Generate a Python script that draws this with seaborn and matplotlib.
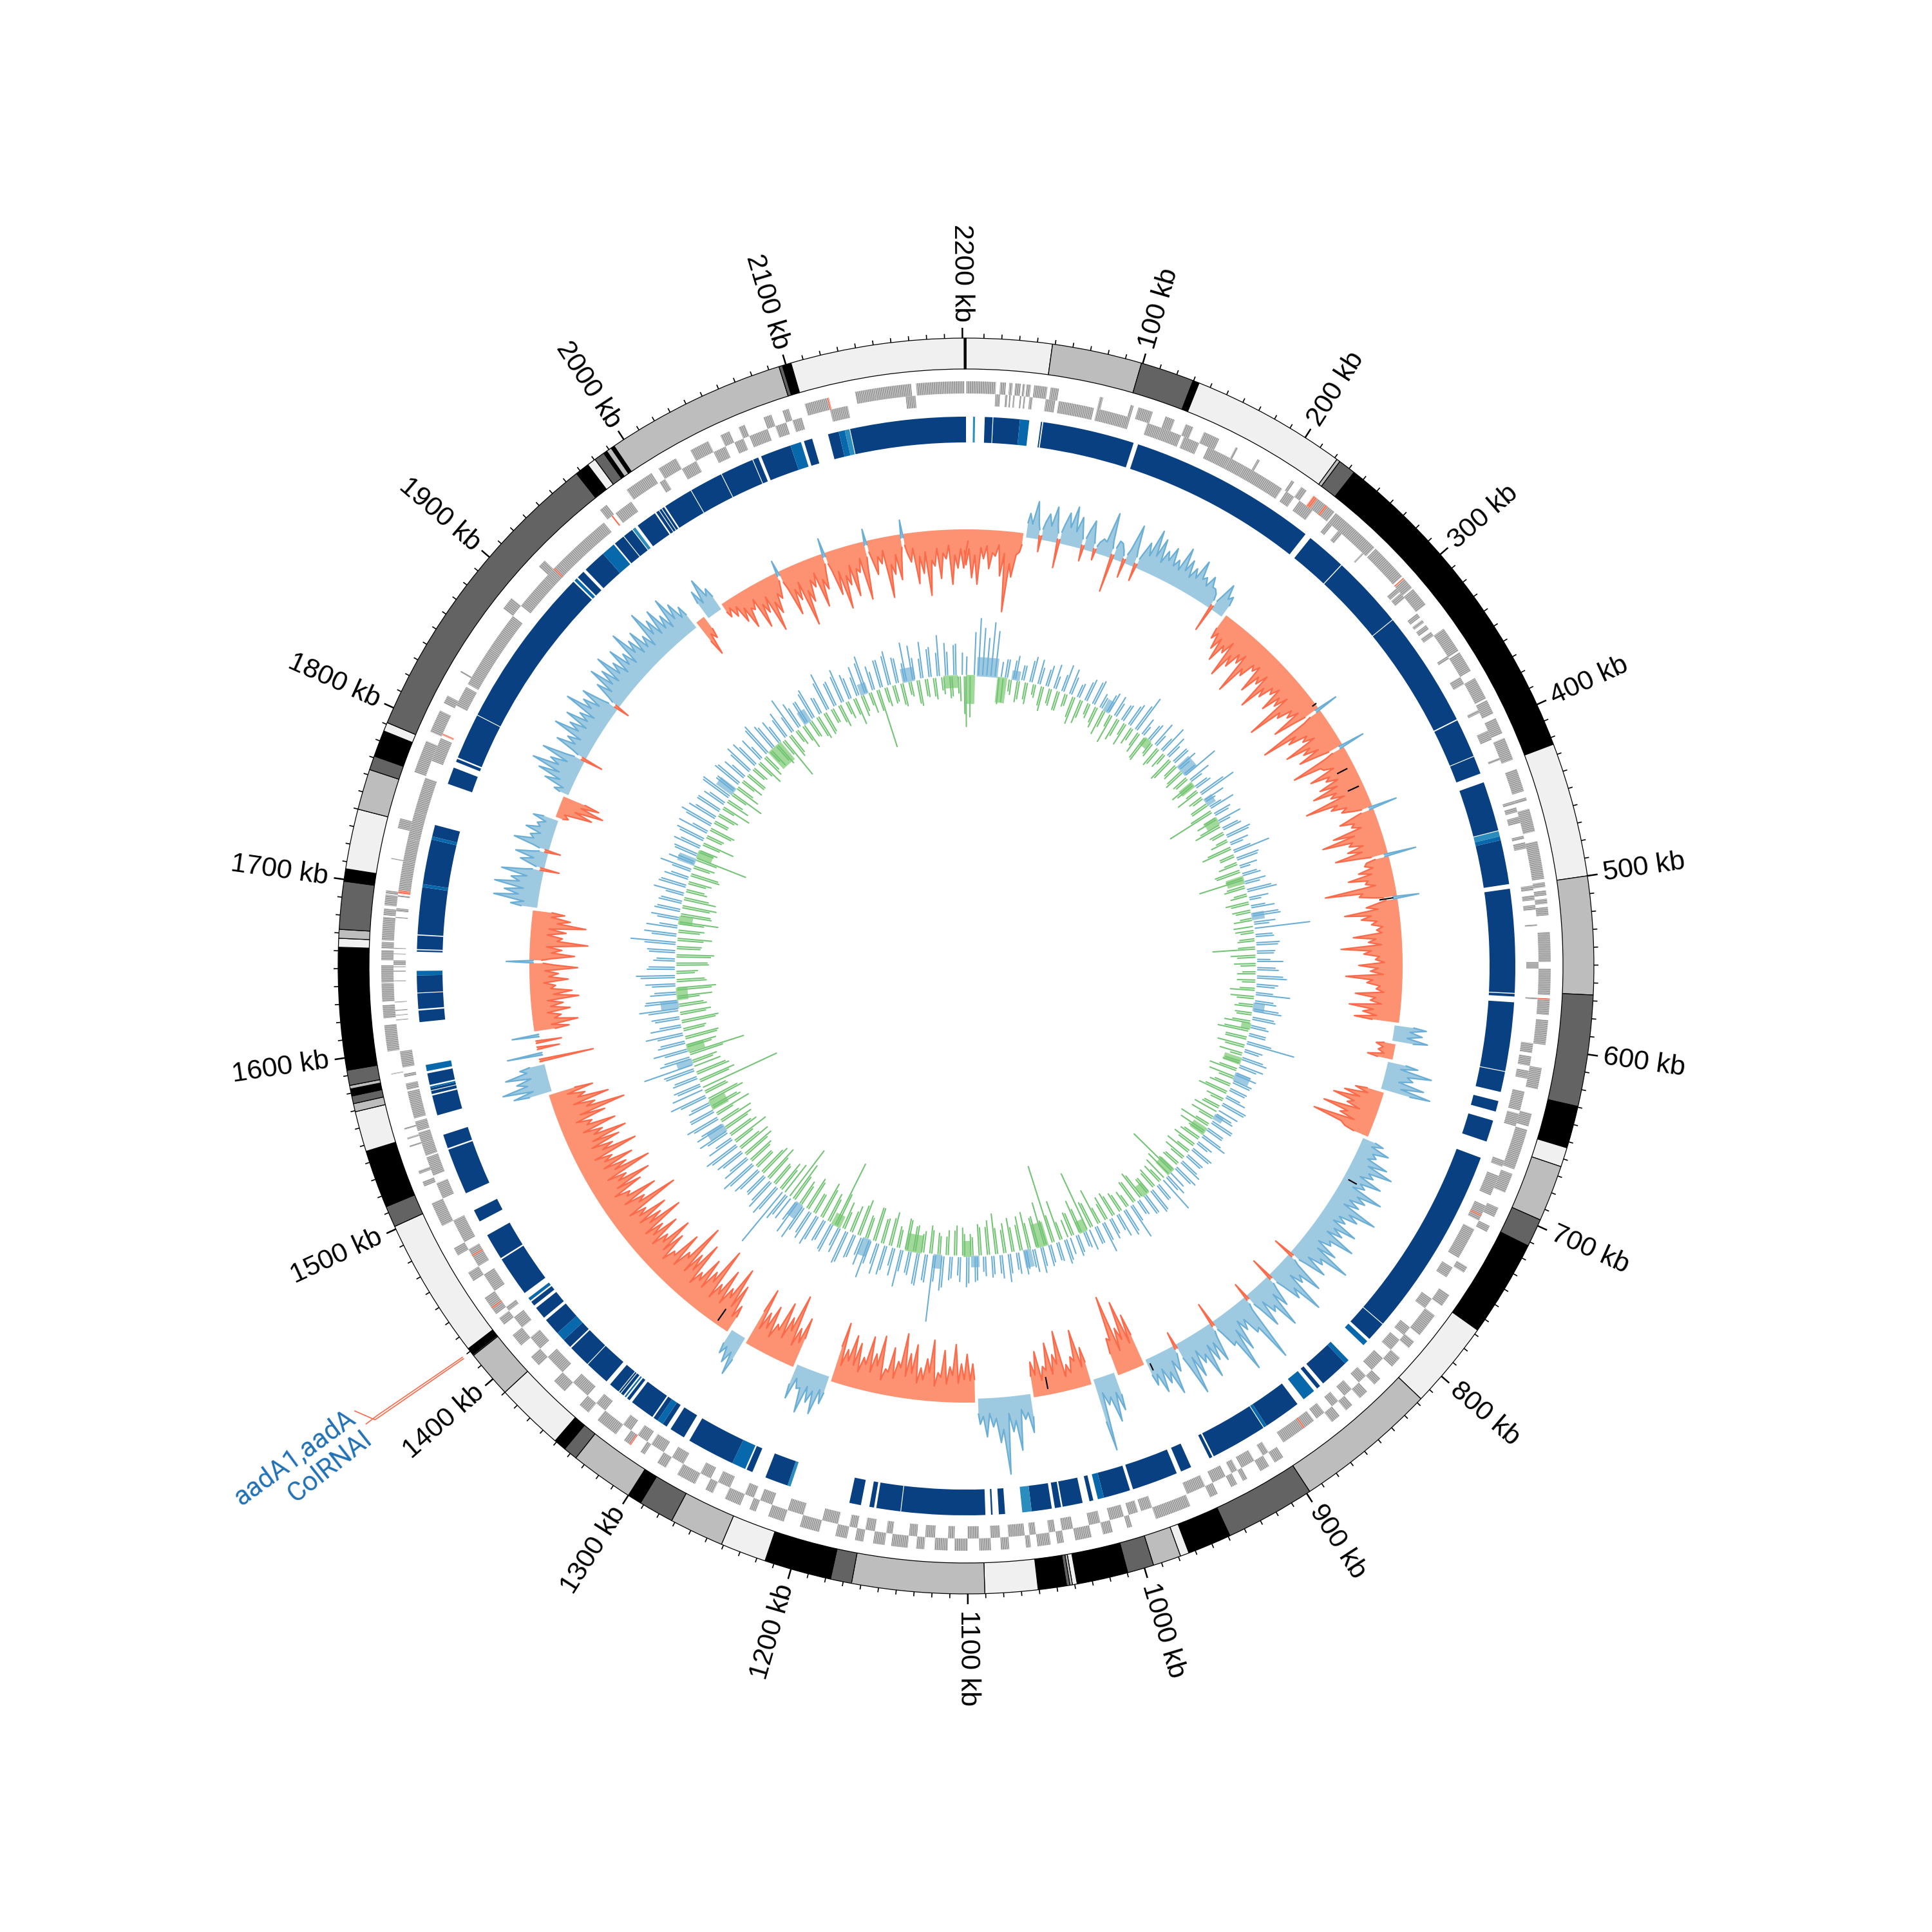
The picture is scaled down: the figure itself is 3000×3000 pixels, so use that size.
import numpy as np
import pandas as pd
import matplotlib.pyplot as plt
import seaborn as sns

sns.set_theme(style="white")

# genome length and ring radii (radial axis runs in figure pixels)
genome_kb = 2202
bin_kb = 5

# ideogram: contig ends in kb and shade index
ideogram_ends = [48.5, 99.3, 129.7, 133.3, 221.5, 223.5, 233.5, 424, 500, 566.7, 629.6, 653.5, 664.5, 696.4, 712.4,
                 767.3, 817, 898, 949, 973.8, 978.8, 994.7, 1009.7, 1038.6, 1041.3, 1042.7, 1044.6, 1060.6, 1090.5,
                 1165.3, 1177.3, 1215.2, 1241.2, 1272, 1292, 1300, 1336, 1344, 1351, 1390, 1417, 1417.7, 1421.8,
                 1501.6, 1513.6, 1546.5, 1569.4, 1574, 1578.4, 1582.4, 1584.4, 1593, 1662, 1667, 1672, 1699, 1706,
                 1740, 1763, 1771, 1786, 1791, 1967.5, 1975.5, 1980.5, 1986.5, 1988.5, 1991.5, 1993.5, 2096, 2098,
                 2103, 2201, 2201.5, 2202]
ideogram_shades = [0, 1, 2, 3, 0, 1, 2, 3, 0, 1, 2, 3, 0, 1, 2,
                   3, 0, 1, 2, 3, 0, 1, 2, 3, 0, 1, 2, 3, 0,
                   1, 2, 3, 0, 1, 2, 3, 1, 2, 3, 0, 1, 2, 3,
                   0, 2, 3, 0, 1, 2, 3, 1, 2, 3, 0, 1, 2, 3,
                   0, 1, 2, 3, 0, 2, 3, 0, 2, 3, 1, 3, 1, 2,
                   3, 0, 2, 3]
shade_colors = ["#f0f0f0", "#bdbdbd", "#636363", "#000000"]

# genes on the two strands, kb ranges
genes_outer = [(0, 18), (20.5, 24), (26, 28), (29.5, 33), (34, 35.5), (36.5, 39), (41, 49), (51, 56), (81, 83),
               (100, 102), (105, 114), (122, 128), (135, 140), (147, 157), (168, 169.5), (183, 184.5), (207, 209),
               (214, 218), (226, 239), (240, 271), (272, 295), (297, 304), (305, 317), (335, 351), (352, 365),
               (370, 384), (385, 394), (397, 407), (410, 424), (430, 444), (448, 450), (455, 469), (475, 498),
               (500, 503), (505, 508), (510, 513), (515, 520), (530, 548), (552, 568), (571, 580), (583, 598),
               (612, 625), (640, 648), (650, 675), (678, 690), (700, 706), (712, 716), (740, 744), (760, 768),
               (775, 790), (795, 800), (808, 815), (825, 830), (836, 842), (848, 853), (858, 864), (900, 906),
               (910, 916), (925, 928), (932, 936), (945, 950), (963, 985), (1000, 1003), (1012, 1018), (1025, 1035),
               (1042, 1046), (1050, 1058), (1062, 1065), (1075, 1080), (1086, 1093), (1100, 1108), (1112, 1120),
               (1126, 1131), (1136, 1146), (1150, 1157), (1163, 1168), (1173, 1180), (1190, 1202), (1212, 1222),
               (1230, 1234), (1240, 1250), (1258, 1263), (1270, 1282), (1290, 1296), (1305, 1308), (1315, 1320),
               (1326, 1340), (1347, 1354), (1366, 1375), (1388, 1395), (1404, 1412), (1420, 1425), (1428, 1440),
               (1452, 1458), (1470, 1475), (1490, 1505), (1516, 1519), (1524, 1526), (1541, 1542), (1546, 1547),
               (1552, 1553), (1586, 1586.6), (1600, 1616), (1620, 1628), (1630, 1641), (1641.6, 1652), (1655, 1661),
               (1662, 1666), (1667, 1681), (1682, 1686), (1688, 1694.5), (1695, 1697), (1716, 1716.6), (1735, 1741),
               (1770, 1790), (1796, 1810), (1815, 1820), (1836, 1837), (1882, 1890), (1915, 1920), (1965, 1970),
               (1985, 2003), (2008, 2020), (2030, 2042), (2050, 2056), (2062, 2066), (2078, 2083), (2090, 2094),
               (2104, 2118), (2135, 2147), (2147, 2169), (2172, 2201)]
genes_inner = [(18, 21), (24, 25.5), (26.5, 27.5), (29, 30), (33, 34), (35.5, 36.5), (39, 41), (49, 55), (57, 79),
               (81, 98), (98, 102), (113, 122), (122, 135), (137, 147), (153, 168), (168, 178), (178, 205),
               (208, 214), (218, 228), (240, 243), (248, 251), (268, 269), (298, 301), (302, 306), (318, 321),
               (323, 325), (327, 330), (332, 335), (350, 352), (365, 370), (388, 390), (402, 408), (420, 421.5),
               (448, 450), (452, 455), (458, 462), (470, 472), (474, 478), (501, 504), (507, 510), (513, 516),
               (525, 526), (548, 552), (570, 571), (598, 604), (606, 612), (615, 620), (628, 640), (642, 650),
               (672, 676), (682, 695), (702, 712), (718, 738), (745, 752), (768, 775), (790, 796), (800, 808),
               (815, 825), (830, 836), (842, 848), (853, 858), (864, 870), (872, 895), (906, 910), (916, 925),
               (928, 932), (936, 945), (950, 962), (985, 992), (994, 1000), (1003, 1012), (1018, 1025), (1035, 1042),
               (1046, 1050), (1058, 1062), (1065, 1075), (1080, 1086), (1093, 1100), (1108, 1112), (1120, 1126),
               (1131, 1136), (1146, 1150), (1157, 1163), (1168, 1173), (1180, 1190), (1202, 1212), (1222, 1230),
               (1234, 1240), (1250, 1258), (1263, 1270), (1282, 1290), (1296, 1305), (1308, 1315), (1320, 1326),
               (1340, 1347), (1354, 1366), (1375, 1388), (1395, 1404), (1412, 1420), (1425, 1428), (1440, 1452),
               (1458, 1470), (1475, 1490), (1505, 1515), (1520, 1532), (1533, 1541), (1541, 1548), (1549, 1555),
               (1557, 1574), (1575, 1579), (1583, 1585), (1589, 1599), (1618, 1618.6), (1621, 1621.6), (1624, 1624.6),
               (1629, 1629.6), (1642, 1642.6), (1648, 1648.6), (1650.7, 1651.3), (1652, 1655), (1658.6, 1659.2),
               (1662, 1662.6), (1681, 1681.6), (1685, 1687), (1694, 1695), (1698, 1716), (1716, 1730), (1730, 1747),
               (1747, 1769), (1780, 1795), (1817, 1830), (1832, 1858), (1858, 1882), (1890, 1912), (1912, 1925),
               (1925, 1962), (1971, 1983), (2004, 2008), (2020, 2030), (2042, 2050), (2056, 2062), (2066, 2078),
               (2083, 2090), (2094, 2100), (2118, 2129), (2165, 2171)]
genes_red_outer = [(223, 226), (232, 233.5), (296, 296.8), (570, 571), (1315, 1316), (1432, 1433), (2118, 2119)]
genes_red_inner = [(708, 709), (879, 880), (1465, 1466), (1696, 1698), (1797, 1798), (1920, 1921), (1968, 1969)]

# contig/ORF blocks: start kb, end kb, blue level
blocks_start = [4.5, 12, 17.5, 34.5, 48, 49.5, 111.7, 237.5, 264, 311.8, 388, 413.5, 431, 463.5, 467, 469.5, 501,
                568.3, 573.7, 618.5, 637.6, 650.5, 675.5, 799.5, 814, 831, 834, 855.5, 860.5, 874, 898, 900.5, 938,
                953, 963, 994.7, 1012, 1019, 1026, 1040, 1046, 1059, 1076, 1084, 1088.6, 1143, 1160, 1168.5, 1215,
                1217, 1241, 1246, 1255, 1290, 1303, 1306, 1310, 1314, 1332, 1335, 1337, 1339.5, 1341, 1351, 1367.5,
                1383, 1389, 1395, 1408, 1418, 1422, 1428, 1455, 1482, 1502, 1533, 1555, 1569, 1571.5, 1573, 1575,
                1584, 1615.6, 1624, 1634.5, 1645.5, 1660.6, 1662.3, 1671.7, 1702, 1704, 1733, 1735, 1770, 1785, 1788,
                1818, 1924, 1927, 1934, 1949, 1959, 1966.5, 1973.5, 1977.5, 1992, 1994.5, 1996.5, 1999, 2018.5,
                2040.5, 2062.5, 2068, 2088, 2097, 2113, 2120, 2124, 2127.5]
blocks_end = [5.8, 17, 34.5, 40.5, 48.8, 108.7, 233.5, 263.4, 311.3, 387.2, 413, 425, 463, 467, 469.5, 498, 567.7,
              570, 618, 631.6, 644.5, 664.5, 799, 812, 817.5, 834, 853, 858, 869, 898, 900, 937, 940, 960, 992.7,
              1012, 1016, 1021.5, 1039, 1044, 1059, 1065, 1080, 1085, 1142.5, 1158.5, 1163, 1176, 1217, 1232, 1245,
              1255, 1286, 1300, 1306, 1310, 1313, 1330, 1334, 1336, 1339, 1340.5, 1348, 1367, 1382, 1389, 1395, 1406,
              1416, 1421, 1424, 1454, 1472, 1490, 1532, 1542, 1568, 1571, 1573, 1574, 1582.5, 1588, 1623, 1634,
              1645.5, 1648.4, 1661.6, 1671, 1702, 1704, 1733, 1735, 1742.5, 1781, 1787, 1817.5, 1923, 1926, 1932,
              1949, 1958, 1966, 1973, 1975.5, 1991, 1994, 1996, 1998, 2018, 2040, 2062, 2066, 2088, 2095, 2102.5, 2120,
              2124, 2127, 2202]
blocks_level = [2, 0, 0, 1, 0, 0, 0, 0, 0, 0, 0, 0, 0, 2, 1, 0, 0,
                0, 0, 0, 0, 0, 0, 0, 1, 1, 0, 0, 1, 0, 1, 0, 0,
                0, 0, 0, 1, 0, 0, 0, 0, 2, 0, 0, 0, 0, 0, 0, 2,
                0, 0, 1, 0, 0, 0, 1, 0, 0, 0, 1, 0, 0, 0, 0, 0,
                0, 1, 0, 0, 0, 1, 0, 0, 0, 0, 0, 0, 0, 0, 1, 0,
                1, 0, 0, 0, 1, 0, 0, 0, 1, 0, 1, 0, 0, 0, 0,
                0, 1, 0, 0, 1, 0, 0, 2, 0, 0, 0, 0, 0, 0,
                0, 0, 0, 1, 0, 0, 1, 2, 0]
block_colors = ["#084081", "#0868ac", "#2b8cbe"]

# outer wiggle, one value per 5 kb: positive runs outward, negative inward
skew_values = [
    -55, -75, -85, -45, -60, -40, -70, -125, -70, -30, 38, 58, -25, 42, 55, -45, 50, 62, 48, -25,
    48, -18, 25, 70, -60, 28, -30, 65, -28, 45, 70, 60, 45, 55, 40, 65, 50, 42, 60, 38,
    45, 30, -45, 50, 35, -42, -55, -70, -50, -85, -62, -48, -95, -58, -40, -72, -50, -88, -60, -45,
    -68, -52, -105, -60, -48, -78, 38, -110, -70, -50, -85, -60, -72, 42, -92, -45, -72, -50, -65, -80,
    -55, -100, -62, -48, 45, -58, -42, -75, -95, -55, -60, -82, 50, -40, -52, -70, -45, -110, -58, 40,
    -50, -85, -60, -45, -38, -75, -52, -95, -60, -42, -68, -50, -88, -55, -40, -72, -48, -80, -58, -70,
    50, 45, 55, -30, -25, -40, 48, 72, 45, 65, 78, -45, -60, -75, -50, -85, -55, -95, -40, 35,
    48, 32, 55, 68, 42, 60, 38, 72, 50, 45, 80, 55, 40, 65, 48, 75, 42, 58, 88, 50,
    62, -35, 70, 45, 90, 58, -38, 52, 82, 48, 65, -30, 110, 55, 42, 70, 100, 50, -40, 62,
    55, 78, 48, 65, 88, -28, 40, 72, 50, 60, 44, -85, -110, -70, -125, -60, 60, 75, 45, 115,
    -60, -90, -50, -40, -95, -60, -80, -45, -70, -55, 60, 38, 85, 55, 120, 70, 45, 60, 40, -60,
    -75, -60, -90, -55, -80, -45, -95, -65, -50, -85, -70, -100, -55, -75, -40, -90, -60, -85, -50, -70,
    -80, -55, -95, 45, 65, 50, 70, 35, 55, -80, -60, -110, -70, -90, -50, -75, -60, -95, 65, 50,
    40, -45, -75, -100, -60, -85, -55, -110, -65, -80, -50, -95, -70, -115, -60, -85, -45, -70, -90, -55,
    -80, -60, -100, -70, -85, -55, -115, -65, -90, -50, -75, -95, -60, -105, -70, -85, -55, -100, -65, -80,
    -95, -60, -85, -50, -75, -110, -65, -90, -55, -70, 60, 75, 50, 65, 40, -85, 55, -35, -40, 42,
    -55, -70, -45, -60, -50, -75, -65, -40, -60, -45, -75, 42, -70, -50, -90, -50, -55, -85, -60, -50,
    42, 70, 55, 72, 48, 65, -30, 40, 50, -25, 58, 35, 45, 30, 40, -20, -55, -70, -60, 25,
    45, 60, 75, 50, 68, -35, 55, 42, 70, 50, 62, 45, 75, 52, 60, -25, 48, 68, 55, 72,
    50, 65, 48, 78, 55, 62, 45, 80, 58, 68, 50, 72, 55, 42, -62, -38, 48, 62, 40, -25,
    -30, -45, -60, -35, -70, -50, -85, -60, -40, 25, -75, -55, -100, -65, -45, -80, -55, 30, -70, -95,
    -60, -80, -45, -90, 25, -55, -40, -95, -60, -70, 28, -45, -80, -65, -100, -55, -75, -45, -85, -60,
    -60]
# same track, the values halfway between the bins above
skew_mids = [
    -30, -40, -28, -25, -35, -22, -35, -50, -35, 0, 22, 25, 28, 24, 26, 30, 28, 24, 26, 30,
    24, 18, 22, 26, 30, 18, 24, 28, 25, 26, 30, 24, 32, 28, 26, 30, 24, 28, 32, 26,
    30, 24, 26, 28, 0, -30, -34, -40, -28, -45, -35, -30, -48, -32, -28, -40, -30, -46, -36, -30,
    -38, -30, -52, -36, -30, -42, -32, -55, -40, -32, -46, -36, -40, -34, -48, -30, -42, -32, -38, -44,
    -34, -50, -38, -30, -34, -36, -28, -42, -48, -34, -38, -44, -36, -28, -32, -40, -30, -52, -36, -30,
    -32, -44, -36, -28, -30, -40, -32, -48, -36, -28, -38, -30, -46, -34, -28, -40, -30, -42, -36, 0,
    25, 22, 0, -18, -15, 0, 22, 35, 24, 30, 0, -24, -34, -40, -28, -44, -30, -48, 0, 18,
    24, 20, 26, 32, 22, 28, 20, 34, 26, 22, 38, 26, 22, 30, 24, 36, 22, 28, 42, 26,
    30, 22, 34, 24, 42, 28, 24, 26, 40, 24, 30, 22, 50, 26, 22, 32, 46, 24, 24, 28,
    26, 36, 24, 30, 40, 22, 20, 34, 24, 28, 0, -40, -50, -35, -55, 0, 30, 34, 24, 0,
    -30, -42, -26, -22, -44, -30, -38, -24, -34, 0, 28, 22, 38, 26, 50, 32, 24, 28, 0, -34,
    -36, -30, -42, -28, -38, -24, -44, -32, -26, -40, -34, -46, -28, -36, -22, -42, -30, -40, -26, -34,
    -38, -28, 0, 24, 30, 26, 32, 20, 0, -38, -30, -50, -34, -42, -26, -36, -30, 0, 30, 26,
    0, -24, -36, -46, -30, -40, -28, -50, -32, -38, -26, -44, -34, -52, -30, -40, -24, -34, -42, -28,
    -38, -30, -46, -34, -40, -28, -52, -32, -42, -26, -36, -44, -30, -48, -34, -40, -28, -46, -32, -38,
    -44, -30, -40, -26, -36, -50, -32, -42, -28, 0, 28, 34, 26, 30, 0, 0, 0, 0, 0, 0,
    -28, -34, -24, -30, -26, -36, -32, -22, -30, -24, -36, -32, -34, -26, -42, -26, -28, -40, -30, 0,
    22, 32, 26, 34, 24, 30, 22, 20, 24, 26, 28, 20, 24, 18, 0, -12, -26, -32, 0, 12,
    22, 28, 34, 24, 30, 24, 26, 22, 32, 24, 28, 22, 34, 26, 28, 22, 24, 30, 26, 32,
    24, 30, 24, 36, 26, 28, 22, 36, 28, 30, 24, 32, 26, 0, -28, 0, 24, 30, 0, -12,
    -16, -24, -30, -20, -34, -26, -40, -30, -22, -30, -36, -28, -46, -32, -24, -38, -28, -30, -34, -44,
    -30, -38, -24, -42, -30, -28, -20, -44, -30, -34, -30, -24, -38, -32, -46, -28, -36, -24, -40, -30,
    -30]
skew_marks_kb = [325, 383, 400, 495, 729, 949, 1034, 1315]
skew_marks_lo = [672, 649, 652, 650, 680, 680, 650, 650]
skew_marks_hi = [680, 667, 671, 672, 695, 692, 669, 672]

# inner wiggle, one value per 5 kb
gc_values = [
    -80, -65, 68, 90, 75, 60, 85, 72, -42, -38, 30, -25, 38, -30, 25, -35, 42, -22, 28, -40,
    35, -28, 22, -32, 45, -20, 30, -45, 25, -30, 38, -25, 42, -35, 20, -28, 35, -48, 25, -30,
    30, -38, 40, -22, 62, -35, 18, -42, 32, -25, 22, -30, 48, -20, 25, -38, 30, -28, 20, -35,
    60, -25, 22, -32, 28, -40, 62, -20, 18, -30, 42, -78, 25, -35, 20, -45, 32, -22, 38, -30,
    22, -50, 60, -25, 35, -32, 18, -40, 30, -72, 25, -35, 48, -28, 20, -30, 38, -25, 45, -30,
    25, 88, -22, 30, -28, 35, -68, 28, -30, 42, -25, 35, -30, 48, -22, 30, -40, 55, -28, 35,
    -30, 45, -25, 38, -42, 30, -50, 28, -35, 78, -32, 25, -20, 42, -28, 30, -45, 35, -25, 30,
    -35, 28, -48, 35, -22, 40, -30, -40, 32, -25, 38, -50, 30, -28, 45, -35, 22, -30, 35, -42,
    30, -25, 40, -30, 35, -83, -45, 28, 60, -35, 30, -30, 42, -28, 35, -48, 25, -40, 58, -30,
    45, -35, 28, -42, 35, -30, 50, -60, 30, -45, -97, 25, -55, 35, -40, -30, 40, -65, 30, -126,
    35, -70, 42, -48, 30, -60, 38, -42, 28, -55, 45, -38, 30, -65, 35, -45, 25, -50, 40, -35,
    48, -45, 30, -40, 38, -30, 55, -35, 105, -45, 42, -30, 50, -40, 35, -50, 60, -35, 30, -45,
    48, -40, 35, -55, 62, -38, 30, -50, 40, -35, 55, -45, 32, -107, 45, -48, 38, -60, 52, -35,
    40, -55, 58, -42, 35, -65, -90, 48, 100, -50, 55, -40, 42, -60, 38, -48, 50, -35, 60, -45,
    35, -55, 48, -40, 58, -62, 30, -42, 50, -50, 38, -35, 55, -60, 42, -45, 32, -52, 60, -38,
    -128, 45, -60, 38, -50, 50, 80, -42, 42, -90, 55, -48, 40, -55, 60, -38, 35, -60, 45, -50,
    62, -40, 50, -55, 35, -62, 48, -45, 62, -35, 42, -50, 30, -60, 45, -40, 72, -55, 52, -42,
    30, -62, 45, -48, 38, -55, 35, -40, 50, -30, 42, -38, 30, -45, 52, -35, 28, -83, 40, -30,
    35, -52, 48, -30, 28, -42, 55, -25, 38, -35, 42, -48, 30, -28, 52, -55, 35, -30, 45, -38,
    28, -35, 50, -28, 38, -45, 25, -30, 55, -32, 40, -38, 30, -70, 45, -35, 60, -28, 35, -42,
    38, -30, 50, -40, 28, -35, 62, -25, 42, -38, 55, -30, 35, -45, 48, -28, 60, -35, 30, -95,
    45, -32, 55, -28, 40, -38, 62, -25, 35, -42, 58, -30, 48, -35, 65, -28, 38, -32, 50, -40,
    -60]
# second set of spikes, halfway between the bins above
gc_between = [
    0, 0, 0, 0, 0, 0, 0, 0, 25, 30, -20, 30, -35, 25, -28, 35, -18, 40, -32, 28,
    -25, 40, -32, 28, -22, 42, -35, 22, -40, 32, -20, 38, -28, 25, -42, 30, -22, 35, -38, 28,
    -22, 35, -30, 45, -25, 30, -40, 28, -22, 42, -35, 25, -28, 38, -42, 30, -25, 35, -30, 22,
    -28, 38, -40, 24, -22, 45, -25, 35, -30, 22, -38, 30, -22, 40, -35, 28, -25, 42, -20, 32,
    -40, 30, -25, 38, -22, 30, -42, 25, -28, 35, -30, 40, -22, 32, -38, 24, -30, 42, -20, 35,
    -32, -30, 28, -25, 38, -28, 30, -40, 22, -35, 30, -22, 42, -30, 35, -25, 28, -38, 30, -24,
    40, -28, 35, -30, 25, -40, 28, -35, 40, -45, 30, -38, 35, -25, 40, -30, 25, -42, 32, -28,
    30, -38, 25, -30, 42, -28, 35, 28, -40, 38, -25, 30, -45, 35, -30, 28, -40, 38, -25, 32,
    -38, 32, -28, 42, -30, 30, 38, -40, -25, 30, -35, 40, -28, 35, -42, 28, -38, 30, -22, 40,
    -30, 40, -35, 28, -40, 32, -28, 30, -42, 35, 28, -40, 30, -38, 28, 35, -30, 32, -45, 30,
    -40, 32, -50, 38, -42, 30, -55, 35, -40, 32, -48, 38, -42, 30, -55, 32, -45, 38, -30, 42,
    -35, 40, -48, 35, -40, 50, -30, 42, -38, 45, -35, 52, -42, 38, -48, 35, -30, 45, -55, 40,
    -42, 50, -55, 38, -35, 45, -60, 38, -45, 52, -30, 42, -55, 48, -40, 35, -50, 42, -35, 48,
    -50, 42, -35, 55, -45, 40, 38, -55, -40, 45, -38, 52, -45, 40, -55, 42, -35, 50, -40, 48,
    -45, 40, -55, 50, -35, 45, -50, 38, -42, 48, -55, 45, -30, 42, -50, 38, -60, 45, -40, 52,
    40, -50, 42, -55, 48, -45, -35, 50, -55, 38, -40, 45, -52, 42, -35, 50, -55, 40, -42, 48,
    -45, 52, -35, 42, -55, 38, -48, 55, -30, 45, -52, 35, -55, 42, -38, 50, -42, 40, -35, 50,
    -40, 35, -50, 42, -45, 38, -52, 30, -35, 45, -30, 40, -48, 32, -28, 42, -35, 38, -25, 45,
    -30, 42, -28, 50, -38, 45, -25, 48, -30, 42, -22, 38, -40, 50, -28, 35, -42, 48, -25, 40,
    -35, 40, -25, 48, -30, 42, -38, 50, -22, 45, -30, 42, -28, 35, -40, 30, -22, 45, -28, 38,
    -28, 45, -35, 30, -38, 48, -25, 40, -30, 45, -22, 42, -28, 32, -35, 50, -22, 40, -35, 45,
    -25, 48, -30, 42, -35, 30, -22, 55, -38, 32, -28, 45, -30, 38, -22, 52, -35, 48, -28, 36,
    30]
# solid stretches under the inner spikes: start kb, end kb, height
gc_band_start = [0, 13, 38, 55, 172, 233, 285, 310, 336, 362, 440, 486, 595, 620, 663, 682, 738, 758, 821, 862, 950,
                 1000, 1022, 1085, 1095, 1130, 1155, 1218, 1258, 1310, 1440, 1470, 1530, 1546, 1600, 1610, 1702,
                 1775, 1785, 1872, 1940, 1995, 2072, 2125, 2175]
gc_band_end = [11, 38, 50, 65, 180, 242, 300, 318, 346, 372, 450, 495, 605, 628, 672, 692, 745, 768, 832, 872, 960,
               1015, 1032, 1095, 1104, 1140, 1175, 1228, 1270, 1320, 1450, 1482, 1538, 1556, 1610, 1625, 1712,
               1784, 1795, 1882, 1960, 2005, 2082, 2140, 2192]
gc_band_height = [-45, 30, -40, 15, 20, -15, 25, -25, 15, -22, -28, 20, 18, -15, -28, 25, 15, -25, -28, -20, -20,
                  -38, 28, 18, -25, 22, -28, 28, -20, 25, 30, -28, 25, -28, 28, -18, -22,
                  28, -25, 30, -35, 22, 18, 22, -20]

# annotated features outside the ring
feature_names = ["aadA1,aadA", "ColRNAI"]
feature_label_kb = [1430, 1418]
feature_line_kb = [[1419, 1422, 1431], [1420, 1423, 1423]]
feature_line_r = [[990, 1157, 1174], [990, 1150, 1172]]

ring_lims = {"ideogram": (927, 975), "outer": (889, 908), "inner": (870, 889), "blocks": (813, 853)}


def to_theta(kb):
    return np.asarray(kb, dtype=float) / genome_kb * 2 * np.pi


def draw_ring(ax, starts, ends, r_lo, r_hi, colors, **kwargs):
    starts, ends = np.asarray(starts, dtype=float), np.asarray(ends, dtype=float)
    ax.bar(to_theta(starts), r_hi - r_lo, width=to_theta(ends - starts), bottom=r_lo,
           align="edge", color=colors, **kwargs)


def draw_wiggle(ax, values, step, r_out, r_in, line_out, fill_out, line_in, fill_in):
    # each same-signed run becomes a filled shape with the top edge drawn as a line
    values = np.asarray(values, dtype=float)
    kb = np.arange(len(values)) * step
    for sign, base, line_c, fill_c in [(1, r_out, line_out, fill_out), (-1, r_in, line_in, fill_in)]:
        rows = []
        idx = np.flatnonzero(np.sign(values) == sign)
        for run, group in enumerate(np.split(idx, np.flatnonzero(np.diff(idx) > 1) + 1)):
            xs = kb[group]
            ys = base + values[group]
            if len(group) == 1:
                xs = np.r_[xs[0] - 1.0, xs[0], xs[0] + 1.0]
                ys = np.r_[base, ys[0], base]
            else:
                xs = np.r_[xs[0] - step / 2, xs, xs[-1] + step / 2]
                ys = np.r_[base + values[group[0]] * 0.6, ys, base + values[group[-1]] * 0.6]
            ax.fill(np.r_[to_theta(xs), to_theta(xs[::-1])], np.r_[ys, np.full(len(ys), base)],
                    color=fill_c, linewidth=0)
            rows.append(pd.DataFrame({"theta": to_theta(xs), "r": ys, "run": run}))
        df = pd.concat(rows, ignore_index=True)
        sns.lineplot(data=df, x="theta", y="r", units="run", estimator=None, sort=False,
                     color=line_c, linewidth=0.55, legend=False, ax=ax)


fig = plt.figure(figsize=(10, 10), dpi=300)
ax = fig.add_axes([0, 0, 1, 1], polar=True)
ax.set_theta_zero_location("N")
ax.set_theta_direction(-1)

# ideogram
ideogram_starts = [0] + ideogram_ends[:-1]
draw_ring(ax, ideogram_starts, ideogram_ends, *ring_lims["ideogram"],
          [shade_colors[s] for s in ideogram_shades], edgecolor="black", linewidth=0.3)

# ticks
minor_kb = np.arange(10, 2201, 10)
minor_kb = minor_kb[minor_kb % 100 != 0]
major_kb = np.arange(100, 2201, 100)
ax.vlines(to_theta(minor_kb), 975, 982, color="black", linewidth=0.4)
ax.vlines(to_theta(major_kb), 975, 991, color="black", linewidth=0.6)
for kb in major_kb:
    deg = kb / genome_kb * 360
    right_side = deg < 180
    ax.text(to_theta(kb), 1000, f"{kb} kb", rotation=90 - deg if right_side else 270 - deg,
            rotation_mode="anchor", ha="left" if right_side else "right", va="center",
            fontsize=10.3, family="Liberation Sans", color="black")

# gene rows, fine white lines keep the individual genes visible
draw_ring(ax, [g[0] for g in genes_outer], [g[1] for g in genes_outer], *ring_lims["outer"], "#9a9a9a", linewidth=0)
draw_ring(ax, [g[0] for g in genes_inner], [g[1] for g in genes_inner], *ring_lims["inner"], "#9a9a9a", linewidth=0)
ax.vlines(to_theta(np.arange(0, genome_kb, 1.1)), 869, 909, color="white", linewidth=0.12)
draw_ring(ax, [g[0] for g in genes_red_outer], [g[1] for g in genes_red_outer], *ring_lims["outer"], "#fb6a4a", linewidth=0)
draw_ring(ax, [g[0] for g in genes_red_inner], [g[1] for g in genes_red_inner], *ring_lims["inner"], "#fb6a4a", linewidth=0)

# blocks
draw_ring(ax, blocks_start, blocks_end, *ring_lims["blocks"],
          [block_colors[b] for b in blocks_level[:len(blocks_start)]], linewidth=0)

# outer wiggle on a 2.5 kb grid
skew_all = np.empty(len(skew_values) * 2)
skew_all[0::2] = skew_values
skew_all[1::2] = skew_mids
draw_wiggle(ax, skew_all, bin_kb / 2, 672, 678, "#6baed6", "#9ecae1", "#fb6a4a", "#fc9272")
ax.vlines(to_theta(skew_marks_kb), skew_marks_lo, skew_marks_hi, color="black", linewidth=0.5)

# inner wiggle: bands first, then single strokes from the baseline
gc_height = np.asarray(gc_band_height, dtype=float)
gc_colors = ["#9ecae1" if h > 0 else "#a1d99b" for h in gc_height]
ax.bar(to_theta(gc_band_start), np.abs(gc_height), width=to_theta(np.subtract(gc_band_end, gc_band_start)),
       bottom=np.where(gc_height > 0, 450, 452 + gc_height), align="edge", color=gc_colors, linewidth=0)
gc_all = np.empty(len(gc_values) * 2)
gc_all[0::2] = gc_values
gc_all[1::2] = gc_between
for sign, base, line_c in [(1, 450, "#6baed6"), (-1, 452, "#74c476")]:
    pick = np.flatnonzero(np.sign(gc_all) == sign)
    rows = [pd.DataFrame({"theta": to_theta([i * bin_kb / 2, i * bin_kb / 2 + 0.5]),
                          "r": [base + sign * 3, base + gc_all[i]], "run": n})
            for n, i in enumerate(pick)]
    df = pd.concat(rows, ignore_index=True)
    sns.lineplot(data=df, x="theta", y="r", units="run", estimator=None, sort=False,
                 color=line_c, linewidth=0.5, legend=False, ax=ax)

# feature labels with leader lines
for name, label_kb, line_kb, line_r in zip(feature_names, feature_label_kb, feature_line_kb, feature_line_r):
    ax.plot(to_theta(line_kb), line_r, color="#fb6a4a", linewidth=0.4)
    ax.text(to_theta(label_kb), 1180, name, rotation=270 - label_kb / genome_kb * 360,
            rotation_mode="anchor", ha="right", va="center", fontsize=10, family="Roboto", color="#2171b5")

ax.set_ylim(0, 1500)
ax.set_axis_off()
fig.savefig("out.png", dpi=300, facecolor="white")
plt.close(fig)
